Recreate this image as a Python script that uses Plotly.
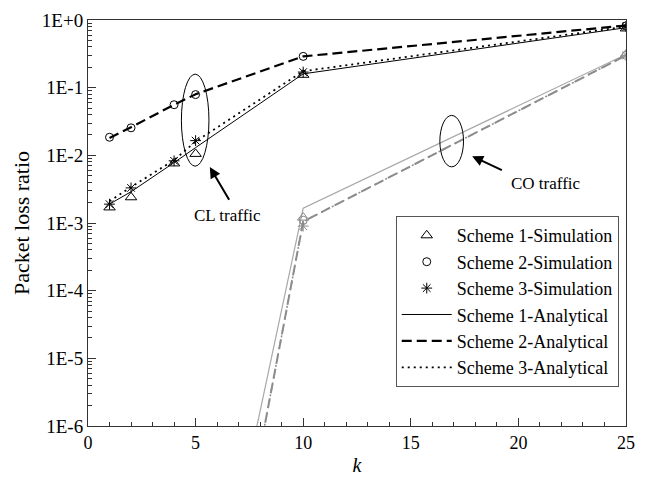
import plotly.graph_objects as go
import numpy as np

# ---- data ----
k_pts = [1, 2, 4, 5, 10, 25]

# connection-less (CL) traffic
cl_sim_s1 = [0.0017, 0.0024, 0.0076, 0.0105, 0.155, 0.75]
cl_sim_s2 = [0.0185, 0.0255, 0.056, 0.079, 0.29, 0.82]
cl_sim_s3 = [0.0019, 0.0033, 0.0083, 0.0165, 0.17, 0.80]
cl_ana_s1 = [0.0019, 0.0029, 0.0078, 0.013, 0.16, 0.77]
cl_ana_s2 = [0.018, 0.026, 0.056, 0.08, 0.29, 0.83]
cl_ana_s3 = [0.0021, 0.0034, 0.0085, 0.016, 0.175, 0.80]

# connection-oriented (CO) traffic
k_co_ana = [5, 10, 25]
co_ana_s1 = [5.4e-11, 0.00165, 0.31]
co_ana_s2 = [4e-12, 0.00105, 0.30]
co_ana_s3 = [4e-12, 0.00105, 0.30]
k_co_sim = [10, 25]
co_sim_s1 = [0.0012, 0.31]
co_sim_s2 = [0.0011, 0.30]
co_sim_s3 = [0.0009, 0.30]

y_tick_vals = [1e0, 1e-1, 1e-2, 1e-3, 1e-4, 1e-5, 1e-6]
y_tick_text = ["1E+0", "1E-1", "1E-2", "1E-3", "1E-4", "1E-5", "1E-6"]
x_tick_vals = [0, 5, 10, 15, 20, 25]

FONT = "Liberation Serif, Times New Roman, serif"
GRAY_SOLID = "#a8a8a8"
GRAY_DASH = "#8c8c8c"

fig = go.Figure()

# CO traffic (gray, not in legend)
fig.add_trace(go.Scatter(x=k_co_ana, y=co_ana_s1, mode="lines",
                         line=dict(color=GRAY_SOLID, width=1.2), showlegend=False))
fig.add_trace(go.Scatter(x=k_co_ana, y=co_ana_s2, mode="lines",
                         line=dict(color=GRAY_DASH, width=2, dash="10px,5px"), showlegend=False))
fig.add_trace(go.Scatter(x=k_co_ana, y=co_ana_s3, mode="lines",
                         line=dict(color=GRAY_DASH, width=1.5, dash="2px,4px"), showlegend=False))
fig.add_trace(go.Scatter(x=k_co_sim, y=co_sim_s1, mode="markers",
                         marker=dict(symbol="triangle-up-open", size=10, color=GRAY_DASH, line=dict(width=1)),
                         showlegend=False))
fig.add_trace(go.Scatter(x=k_co_sim, y=co_sim_s2, mode="markers",
                         marker=dict(symbol="circle-open", size=8, color=GRAY_DASH, line=dict(width=1)),
                         showlegend=False))
fig.add_trace(go.Scatter(x=k_co_sim, y=co_sim_s3, mode="markers",
                         marker=dict(symbol="asterisk-open", size=9, color=GRAY_DASH, line=dict(width=1)),
                         showlegend=False))

# CL traffic analytical lines
fig.add_trace(go.Scatter(x=k_pts, y=cl_ana_s1, mode="lines", name="Scheme 1-Analytical",
                         line=dict(color="black", width=1), legendgroup="a1", legendrank=4))
fig.add_trace(go.Scatter(x=k_pts, y=cl_ana_s2, mode="lines", name="Scheme 2-Analytical",
                         line=dict(color="black", width=2.2, dash="10px,5px"), legendgroup="a2", legendrank=5))
fig.add_trace(go.Scatter(x=k_pts, y=cl_ana_s3, mode="lines", name="Scheme 3-Analytical",
                         line=dict(color="black", width=1.8, dash="2px,4px"), legendgroup="a3", legendrank=6))

# CL traffic simulation markers
fig.add_trace(go.Scatter(x=k_pts, y=cl_sim_s1, mode="markers", name="Scheme 1-Simulation",
                         marker=dict(symbol="triangle-up-open", size=10, color="black", line=dict(width=1)),
                         legendgroup="s1", legendrank=1))
fig.add_trace(go.Scatter(x=k_pts, y=cl_sim_s2, mode="markers", name="Scheme 2-Simulation",
                         marker=dict(symbol="circle-open", size=8, color="black", line=dict(width=1)),
                         legendgroup="s2", legendrank=2))
fig.add_trace(go.Scatter(x=k_pts, y=cl_sim_s3, mode="markers", name="Scheme 3-Simulation",
                         marker=dict(symbol="asterisk-open", size=9, color="black", line=dict(width=1)),
                         legendgroup="s3", legendrank=3))

# ellipses marking the two traffic groups (data values on the log axis)
fig.add_shape(type="circle", xref="x", yref="y", x0=4.34, x1=5.62,
              y0=10 ** -2.16, y1=10 ** -0.80, line=dict(color="black", width=1))
fig.add_shape(type="circle", xref="x", yref="y", x0=16.35, x1=17.45,
              y0=10 ** -2.17, y1=10 ** -1.41, line=dict(color="black", width=1))

# labels with arrows (annotation positions are log10 on the y axis)
fig.add_annotation(x=5.66, y=np.log10(0.0067), ax=6.6, ay=np.log10(0.0021),
                   xref="x", yref="y", axref="x", ayref="y",
                   showarrow=True, arrowhead=2, arrowsize=1.1, arrowwidth=2, arrowcolor="black", text="")
fig.add_annotation(x=6.5, y=np.log10(0.0013), xref="x", yref="y", text="CL traffic",
                   showarrow=False, font=dict(family=FONT, size=17, color="black"))
fig.add_annotation(x=17.85, y=np.log10(0.0097), ax=19.3, ay=np.log10(0.0059),
                   xref="x", yref="y", axref="x", ayref="y",
                   showarrow=True, arrowhead=2, arrowsize=1.1, arrowwidth=2, arrowcolor="black", text="")
fig.add_annotation(x=21.3, y=np.log10(0.0038), xref="x", yref="y", text="CO traffic",
                   showarrow=False, font=dict(family=FONT, size=17, color="black"))

fig.update_layout(
    width=645, height=483,
    margin=dict(l=88, r=10, t=18, b=51),
    paper_bgcolor="white", plot_bgcolor="white",
    font=dict(family=FONT, color="black", size=17),
    legend=dict(x=0.572, y=0.517, xanchor="left", yanchor="top",
                bordercolor="#555", borderwidth=1, bgcolor="white",
                font=dict(family=FONT, size=18), tracegroupgap=0,
                itemwidth=50, traceorder="grouped"),
    xaxis=dict(range=[0, 25], tickvals=x_tick_vals, ticks="inside", ticklen=8,
               tickcolor="#333", showline=True, linecolor="#333", linewidth=1, mirror=True,
               showgrid=False, zeroline=False, tickfont=dict(size=18),
               minor=dict(dtick=1, ticks="inside", ticklen=4, tickcolor="#333", showgrid=False),
               title=dict(text="<i>k</i>", font=dict(size=20), standoff=6)),
    yaxis=dict(type="log", range=[-6, 0], tickvals=y_tick_vals, ticktext=y_tick_text,
               ticks="inside", ticklen=8, tickcolor="#333", showline=True, linecolor="#333",
               linewidth=1, mirror=True, showgrid=False, zeroline=False, tickfont=dict(size=19),
               minor=dict(dtick="D1", ticks="inside", ticklen=4, tickcolor="#333", showgrid=False),
               title=dict(text="Packet loss ratio", font=dict(size=22), standoff=6)),
)

fig.write_html("out.html")
